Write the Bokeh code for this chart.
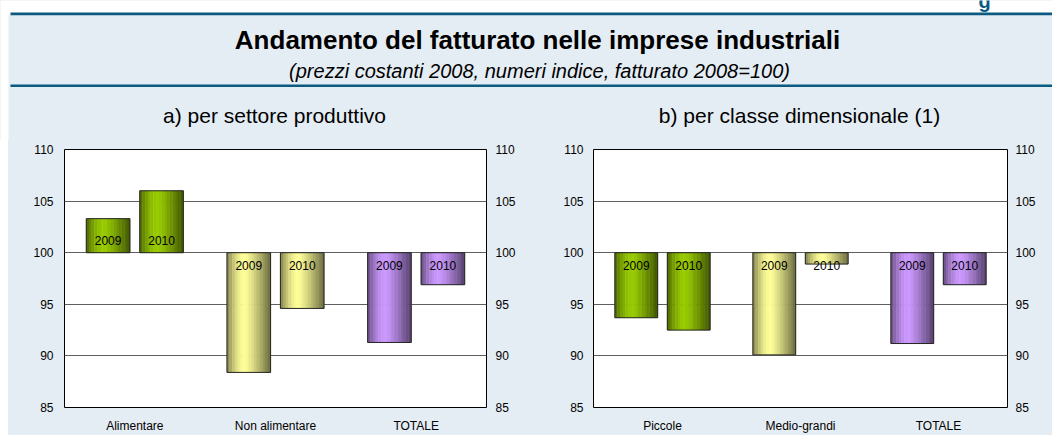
import math
from bokeh.plotting import figure
from bokeh.models import (Range1d, FactorRange, LinearAxis, FixedTicker, Label,
                          ColumnDataSource, BoxAnnotation, Spacer)
from bokeh.transform import dodge
from bokeh.layouts import column, row
from bokeh.core.properties import value
from bokeh.embed import file_html
from bokeh.resources import INLINE

# ---------------- data ----------------
TITLE = "Andamento del fatturato nelle imprese industriali"
SUBTITLE = "(prezzi costanti 2008, numeri indice, fatturato 2008=100)"
years = ["2009", "2010"]

title_a = "a) per settore produttivo"
cats_a = ["Alimentare", "Non alimentare", "TOTALE"]
a_2009 = [103.3, 88.4, 91.3]
a_2010 = [106.0, 94.6, 96.9]

title_b = "b) per classe dimensionale (1)"
cats_b = ["Piccole", "Medio-grandi", "TOTALE"]
b_2009 = [93.7, 90.1, 91.2]
b_2010 = [92.5, 98.9, 96.9]

base_value = 100
y_min, y_max = 85, 110
y_ticks = [85, 90, 95, 100, 105, 110]
cat_colors = ["#99CC00", "#FFFF99", "#CC99FF"]

# ---------------- style ----------------
PANEL = "#E5EDF4"
RULE = "#0B5A80"
FONT = "Liberation Sans"
N_STRIPS = 16
BAR_W = 0.31
OFFS = [-0.19, 0.19]


def shade(hex_color, t):
    """cylinder-like shading factor across the bar (t in 0..1)"""
    peak = 0.42
    if t < peak:
        k = t / peak
        f = 0.5 + 0.5 * math.sin(k * math.pi / 2)
    else:
        k = (t - peak) / (1 - peak)
        f = 1 - 0.58 * (k ** 1.2)
    r = int(hex_color[1:3], 16)
    g = int(hex_color[3:5], 16)
    b = int(hex_color[5:7], 16)
    return "#%02x%02x%02x" % (int(r * f), int(g * f), int(b * f))


def make_chart(cats, v09, v10, width, height, bl, br, bt, bb, sl, sr):
    p = figure(x_range=FactorRange(*cats), y_range=Range1d(y_min, y_max),
               width=width, height=height, output_backend="svg", title=None,
               toolbar_location=None, min_border_left=bl, min_border_right=br,
               min_border_top=bt, min_border_bottom=bb,
               background_fill_color="white", border_fill_color=PANEL,
               outline_line_color="black", outline_line_width=1)

    ticker = FixedTicker(ticks=y_ticks)
    p.yaxis.ticker = ticker
    right = LinearAxis(ticker=ticker)
    p.add_layout(right, "right")
    for ax, st in ((p.yaxis[0], sl), (right, sr)):
        ax.major_tick_line_color = None
        ax.minor_tick_line_color = None
        ax.major_tick_out = 0
        ax.major_tick_in = 0
        ax.axis_line_color = None
        ax.major_label_standoff = st
        ax.major_label_text_font = FONT
        ax.major_label_text_font_size = "12px"
        ax.major_label_text_color = "black"
    xa = p.xaxis[0]
    xa.major_tick_line_color = None
    xa.major_tick_out = 0
    xa.axis_line_color = None
    xa.major_label_standoff = 11
    xa.major_label_text_font = FONT
    xa.major_label_text_font_size = "12px"
    xa.major_label_text_color = "black"

    p.xgrid.visible = False
    p.ygrid.ticker = ticker
    p.ygrid.grid_line_color = "#5f5f5f"
    p.ygrid.grid_line_width = 1

    for yr, vals, off in zip(years, (v09, v10), OFFS):
        data = dict(cat=cats, top=vals, bottom=[base_value] * len(cats),
                    label=[yr] * len(cats),
                    yoff=[-12 if v >= base_value else 13 for v in vals])
        for j in range(N_STRIPS):
            t = (j + 0.5) / N_STRIPS
            data["c%d" % j] = [shade(c, t) for c in cat_colors]
        src = ColumnDataSource(data)
        sw = BAR_W / N_STRIPS
        for j in range(N_STRIPS):
            xo = off - BAR_W / 2 + (j + 0.5) * sw
            p.vbar(x=dodge("cat", xo, range=p.x_range), top="top", bottom="bottom",
                   width=sw * 1.08, fill_color="c%d" % j, line_color="c%d" % j,
                   line_width=0.3, source=src)
        p.vbar(x=dodge("cat", off, range=p.x_range), top="top", bottom="bottom",
               width=BAR_W, fill_color=None, line_color="#262626", line_width=1,
               source=src)
        p.text(x=dodge("cat", off, range=p.x_range), y="bottom", text="label",
               y_offset="yoff", text_align="center", text_baseline="middle",
               text_font=value(FONT), text_font_size="12px", text_color="black",
               source=src)
    return p


# ---------------- header (titles and rules) ----------------
HW, HH = 1052, 140
h = figure(width=HW, height=HH, x_range=Range1d(0, HW), y_range=Range1d(HH, 0),
           output_backend="svg", toolbar_location=None, min_border=0,
           x_axis_type=None, y_axis_type=None, border_fill_color="white",
           background_fill_color="white", outline_line_color=None)
h.grid.visible = False
h.add_layout(BoxAnnotation(left=8, right=HW, top=14.5, bottom=HH,
                           fill_color=PANEL, fill_alpha=1, line_color=None))
h.add_layout(BoxAnnotation(left=10, right=HW, top=12, bottom=14.8,
                           fill_color=RULE, fill_alpha=1, line_color=None))
h.add_layout(BoxAnnotation(left=10, right=HW, top=84, bottom=86.5,
                           fill_color=RULE, fill_alpha=1, line_color=None))
h.add_layout(Label(x=984, y=0.5, text="g", text_align="center",
                   text_baseline="alphabetic", text_font=FONT,
                   text_font_size="20px", text_font_style="bold",
                   text_color=RULE))
h.add_layout(Label(x=537, y=39, text=TITLE, text_align="center",
                   text_baseline="alphabetic", text_font=FONT,
                   text_font_size="26px", text_font_style="bold",
                   text_color="black"))
h.add_layout(Label(x=539, y=70, text=SUBTITLE, text_align="center",
                   text_baseline="alphabetic", text_font=FONT,
                   text_font_size="20px", text_font_style="italic",
                   text_color="black"))
for txt, cx in ((title_a, 274), (title_b, 799)):
    h.add_layout(Label(x=cx, y=115, text=txt, text_align="center",
                       text_baseline="alphabetic", text_font=FONT,
                       text_font_size="21px", text_color="black"))

# ---------------- charts ----------------
CH = 435 - HH
pa = make_chart(cats_a, a_2009, a_2010, 512, CH, 56, 34, 147 - HH, 28, 11, 9)
pb = make_chart(cats_b, b_2009, b_2010, 532, CH, 73, 45, 149 - HH, 28, 10, 8)
left_gap = Spacer(width=8, height=CH, styles={"background-color": "white"})

charts = row(left_gap, pa, pb, spacing=0, styles={"background-color": PANEL})
layout = column(h, charts, spacing=0, styles={"background-color": PANEL})
open("out.html", "w").write(file_html(layout, INLINE))
